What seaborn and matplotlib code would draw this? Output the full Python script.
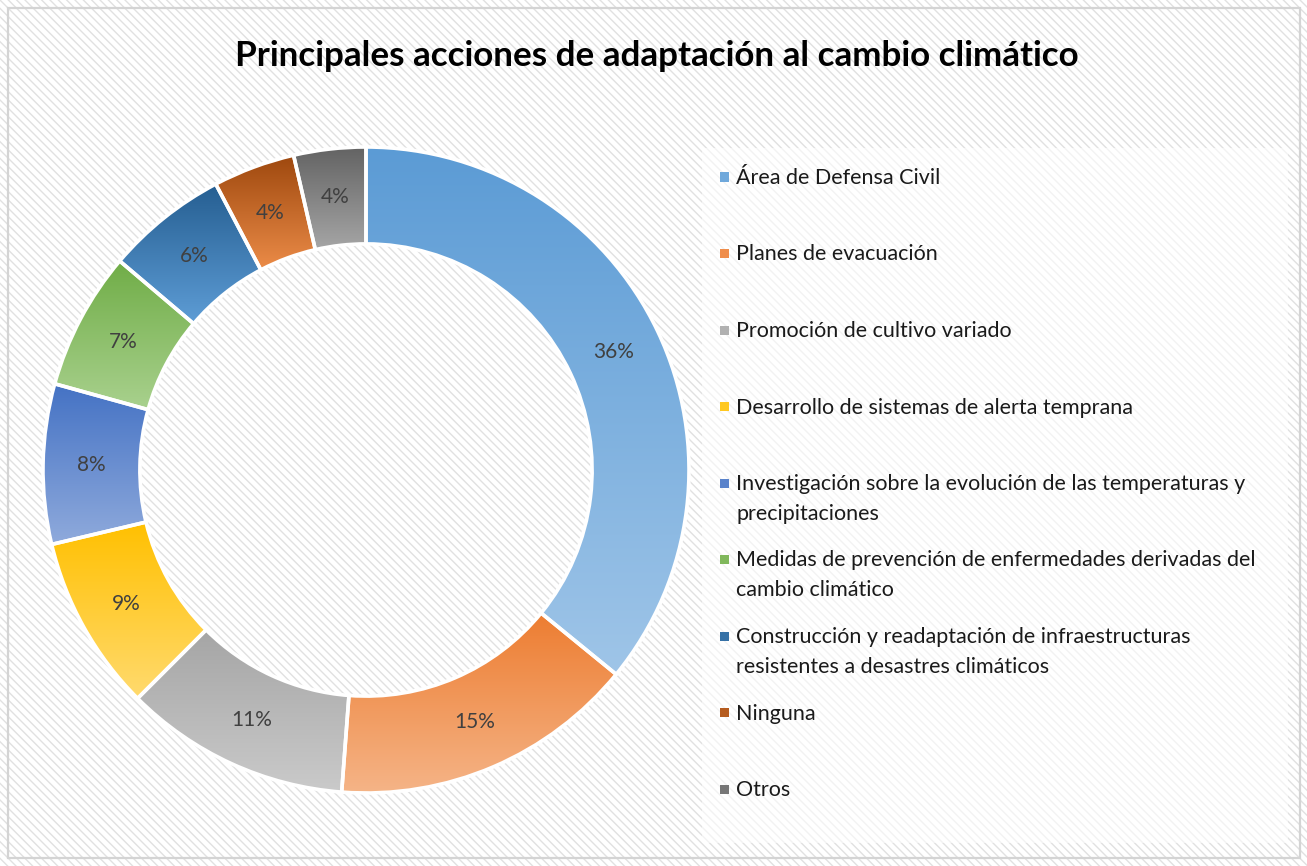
import numpy as np
import matplotlib
matplotlib.use("Agg")
import matplotlib.pyplot as plt
import seaborn as sns
from matplotlib.patches import Rectangle
from matplotlib.colors import to_rgb

# ---------------- data ----------------
title = "Principales acciones de adaptación al cambio climático"
categories = [
    "Área de Defensa Civil",
    "Planes de evacuación",
    "Promoción de cultivo variado",
    "Desarrollo de sistemas de alerta temprana",
    "Investigación sobre la evolución de las temperaturas y precipitaciones",
    "Medidas de prevención de enfermedades derivadas del cambio climático",
    "Construcción y readaptación de infraestructuras resistentes a desastres climáticos",
    "Ninguna",
    "Otros",
]
legend_labels = [
    "Área de Defensa Civil",
    "Planes de evacuación",
    "Promoción de cultivo variado",
    "Desarrollo de sistemas de alerta temprana",
    "Investigación sobre la evolución de las temperaturas y\nprecipitaciones",
    "Medidas de prevención de enfermedades derivadas del\ncambio climático",
    "Construcción y readaptación de infraestructuras\nresistentes a desastres climáticos",
    "Ninguna",
    "Otros",
]
values = [35.9, 15.3, 11.3, 8.8, 8.0, 6.9, 6.1, 4.1, 3.6]

colors_top = ["#5B9BD5", "#ED7D31", "#A5A5A5", "#FFC000", "#4472C4",
              "#70AD47", "#255E91", "#9E480E", "#636363"]
colors_bottom = ["#9FC5E8", "#F5B487", "#CACACA", "#FFDA6E", "#8FAADC",
                 "#A9D18E", "#5E9DD6", "#EC8C48", "#A6A6A6"]

# ---------------- style ----------------
sns.set_theme(style="white")
plt.rcParams["font.family"] = ["Lato", "DejaVu Sans"]
plt.rcParams["hatch.linewidth"] = 1.0

W, H = 1307, 866
fig = plt.figure(figsize=(W / 100, H / 100), dpi=100)
fig.patch.set_facecolor("white")


def fx(px):
    return px / W


def fy(py):
    return 1 - py / H


# hatched background
fig.patches.append(Rectangle((0, 0), 1, 1, transform=fig.transFigure,
                             facecolor="white", edgecolor="#e1e1e1",
                             hatch="\\\\\\\\", linewidth=0, zorder=-10))
# outer border
fig.patches.append(Rectangle((fx(8), fy(858)), fx(1300) - fx(8), fy(8) - fy(858),
                             transform=fig.transFigure, fill=False,
                             edgecolor="#d4d4d4", linewidth=1.6, zorder=-9))
# legend area light overlay
fig.patches.append(Rectangle((fx(702), fy(843)), fx(1288) - fx(702), fy(148) - fy(843),
                             transform=fig.transFigure, facecolor="white",
                             alpha=0.6, linewidth=0, zorder=-8))

# ---------------- doughnut ----------------
cx, cy, R = 366, 470, 323
ax = fig.add_axes([fx(cx - R), fy(cy + R), 2 * R / W, 2 * R / H])
ax.patch.set_alpha(0)

wedges, texts, autotexts = ax.pie(
    values, startangle=90, counterclock=False, radius=1,
    autopct="%1.0f%%", pctdistance=0.85,
    wedgeprops=dict(width=0.3, edgecolor="white", linewidth=2.6),
    textprops=dict(color="#404040", fontsize=14),
)

for w, ct, cb in zip(wedges, colors_top, colors_bottom):
    ext = w.get_path().get_extents()
    t0 = np.array(to_rgb(ct))
    t1 = np.array(to_rgb(cb))
    s = np.linspace(0, 1, 256)[:, None]
    grad = (t0 * (1 - s) + t1 * s)[:, None, :]
    im = ax.imshow(grad, extent=(ext.x0, ext.x1, ext.y0, ext.y1), origin="upper",
                   aspect="auto", interpolation="bilinear", zorder=1)
    im.set_clip_path(w)
    w.set_facecolor("none")
    w.set_zorder(2)
    w.set_clip_on(False)

for t in autotexts:
    t.set_zorder(4)

ax.set_xlim(-1, 1)
ax.set_ylim(-1, 1)
ax.set_aspect("equal")
ax.axis("off")

# ---------------- title ----------------
tt = fig.text(fx(657), fy(66), title, ha="center", va="baseline",
              fontsize=24, fontweight="bold", color="black")

# ---------------- legend ----------------
leg_texts = []
for i, lab in enumerate(legend_labels):
    yc = 177 + 76.5 * i
    c = np.array(to_rgb(colors_top[i])) * 0.7 + np.array(to_rgb(colors_bottom[i])) * 0.3
    fig.patches.append(Rectangle((fx(719.5), fy(yc + 4.5)), 9 / W, 9 / H,
                                 transform=fig.transFigure, facecolor=c,
                                 linewidth=0, zorder=3))
    for j, line in enumerate(lab.split("\n")):
        leg_texts.append(fig.text(fx(736), fy(yc + 7 + 30 * j), line,
                                  ha="left", va="baseline", fontsize=14,
                                  color="#1a1a1a"))

# fit font sizes to the reference widths
renderer = fig.canvas.get_renderer()
wt = tt.get_window_extent(renderer).width
tt.set_fontsize(tt.get_fontsize() * 845 / wt)
wl = leg_texts[0].get_window_extent(renderer).width
scale = 204 / wl
for t in leg_texts:
    t.set_fontsize(t.get_fontsize() * scale)
wp = autotexts[0].get_window_extent(renderer).width
for t in autotexts:
    t.set_fontsize(t.get_fontsize() * 41 / wp)

fig.savefig("out.png", dpi=100)
